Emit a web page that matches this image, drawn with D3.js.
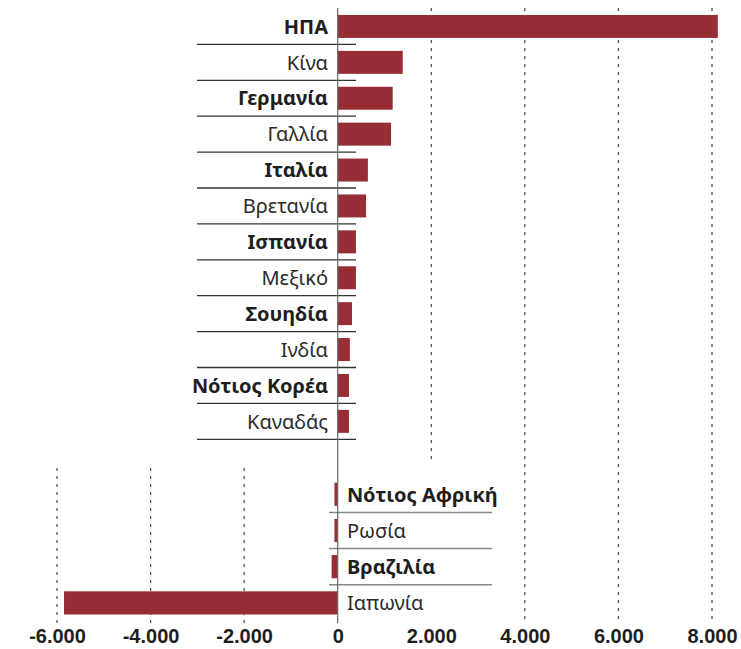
<!DOCTYPE html>
<html>
<head>
<meta charset="utf-8">
<script src="https://cdn.jsdelivr.net/npm/d3@7"></script>
<style>
  body { margin: 0; background: #fff; }
  svg { display: block; font-family: "Noto Sans", "Open Sans", sans-serif; }
  .lbl { font-size: 20px; fill: #2a2a2a; }
  .lbl.bold { font-weight: bold; fill: #1e1e1e; }
  .tick text { font-size: 20px; font-weight: bold; fill: #1e1e1e; }
</style>
</head>
<body>
<svg id="chart"></svg>
<script>
// data
var topCountries = ["ΗΠΑ", "Κίνα", "Γερμανία", "Γαλλία", "Ιταλία", "Βρετανία", "Ισπανία", "Μεξικό", "Σουηδία", "Ινδία", "Νότιος Κορέα", "Καναδάς"];
var topValues = [8125, 1390, 1175, 1140, 645, 605, 390, 390, 305, 260, 240, 240];
var bottomCountries = ["Νότιος Αφρική", "Ρωσία", "Βραζιλία", "Ιαπωνία"];
var bottomValues = [-70, -70, -130, -5850];
var xTicks = [-6000, -4000, -2000, 0, 2000, 4000, 6000, 8000];

var W = 741, H = 649;
var barColor = "#972e35";

var svg = d3.select("#chart").attr("width", W).attr("height", H);

var x = d3.scaleLinear().domain([-6000, 8000]).range([57, 712]);

var topStep = 35.9, bottomStep = 36.2;
var yTop = d3.scaleBand()
  .domain(topCountries)
  .range([8.5, 8.5 + topCountries.length * topStep])
  .paddingInner(0.36).paddingOuter(0.18);
var yBottom = d3.scaleBand()
  .domain(bottomCountries)
  .range([476.2, 476.2 + bottomCountries.length * bottomStep])
  .paddingInner(0.36).paddingOuter(0.18);

var gridTop = 8, gridBottom = 623;

// gridlines
svg.append("g").selectAll("line")
  .data(xTicks.filter(function(d){ return d !== 0; }))
  .enter().append("line")
  .attr("x1", function(d){ return x(d); })
  .attr("x2", function(d){ return x(d); })
  .attr("y1", function(d){ return d < 0 ? 468 : gridTop; })
  .attr("y2", gridBottom)
  .attr("stroke", "#444")
  .attr("stroke-width", 1.2)
  .attr("stroke-dasharray", "3,5");

// white box behind the bottom labels hides the gridline
svg.append("rect")
  .attr("x", x(0) + 1).attr("y", 462)
  .attr("width", 492 - x(0) - 1).attr("height", gridBottom - 462)
  .attr("fill", "#fff");

var topData = topCountries.map(function(c, i){ return {name: c, value: topValues[i], i: i}; });
var bottomData = bottomCountries.map(function(c, i){ return {name: c, value: bottomValues[i], i: i}; });

// separators
svg.append("g").selectAll("line")
  .data(topData)
  .enter().append("line")
  .attr("x1", 197).attr("x2", 356)
  .attr("y1", function(d){ return yTop(d.name) - yTop.step() * 0.18 + yTop.step(); })
  .attr("y2", function(d){ return yTop(d.name) - yTop.step() * 0.18 + yTop.step(); })
  .attr("stroke", "#333")
  .attr("stroke-width", 1.3);

svg.append("g").selectAll("line")
  .data(bottomData.slice(0, bottomData.length - 1))
  .enter().append("line")
  .attr("x1", 329).attr("x2", 492)
  .attr("y1", function(d){ return yBottom(d.name) - yBottom.step() * 0.18 + yBottom.step(); })
  .attr("y2", function(d){ return yBottom(d.name) - yBottom.step() * 0.18 + yBottom.step(); })
  .attr("stroke", "#888")
  .attr("stroke-width", 1.5);

// bars
svg.append("g").selectAll("rect")
  .data(topData)
  .enter().append("rect")
  .attr("x", function(d){ return x(Math.min(0, d.value)); })
  .attr("y", function(d){ return yTop(d.name); })
  .attr("width", function(d){ return Math.abs(x(d.value) - x(0)); })
  .attr("height", yTop.bandwidth())
  .attr("fill", barColor);

svg.append("g").selectAll("rect")
  .data(bottomData)
  .enter().append("rect")
  .attr("x", function(d){ return x(Math.min(0, d.value)); })
  .attr("y", function(d){ return yBottom(d.name); })
  .attr("width", function(d){ return Math.abs(x(d.value) - x(0)); })
  .attr("height", yBottom.bandwidth())
  .attr("fill", barColor);

// labels
svg.append("g").selectAll("text")
  .data(topData)
  .enter().append("text")
  .attr("class", function(d){ return d.i % 2 === 0 ? "lbl bold" : "lbl"; })
  .attr("x", 328)
  .attr("y", function(d){ return yTop(d.name) + yTop.bandwidth() / 2; })
  .attr("dy", "0.36em")
  .attr("text-anchor", "end")
  .text(function(d){ return d.name; });

svg.append("g").selectAll("text")
  .data(bottomData)
  .enter().append("text")
  .attr("class", function(d){ return d.i % 2 === 0 ? "lbl bold" : "lbl"; })
  .attr("x", 347)
  .attr("y", function(d){ return yBottom(d.name) + yBottom.bandwidth() / 2; })
  .attr("dy", "0.36em")
  .text(function(d){ return d.name; });

// zero line
svg.append("line")
  .attr("x1", x(0)).attr("x2", x(0))
  .attr("y1", gridTop).attr("y2", gridBottom)
  .attr("stroke", "#666")
  .attr("stroke-width", 1.2);

// x axis labels
var locale = d3.formatLocale({decimal: ",", thousands: ".", grouping: [3], currency: ["", "€"], minus: "-"});
var fmt = locale.format(",");
var axis = svg.append("g")
  .attr("transform", "translate(0," + 643 + ")")
  .call(d3.axisBottom(x).tickValues(xTicks).tickSize(0).tickPadding(0).tickFormat(fmt));
axis.select(".domain").remove();
axis.selectAll(".tick text")
  .attr("y", 0)
  .attr("dy", 0)
  .attr("font-family", null)
  .attr("font-size", null);
</script>
</body>
</html>
